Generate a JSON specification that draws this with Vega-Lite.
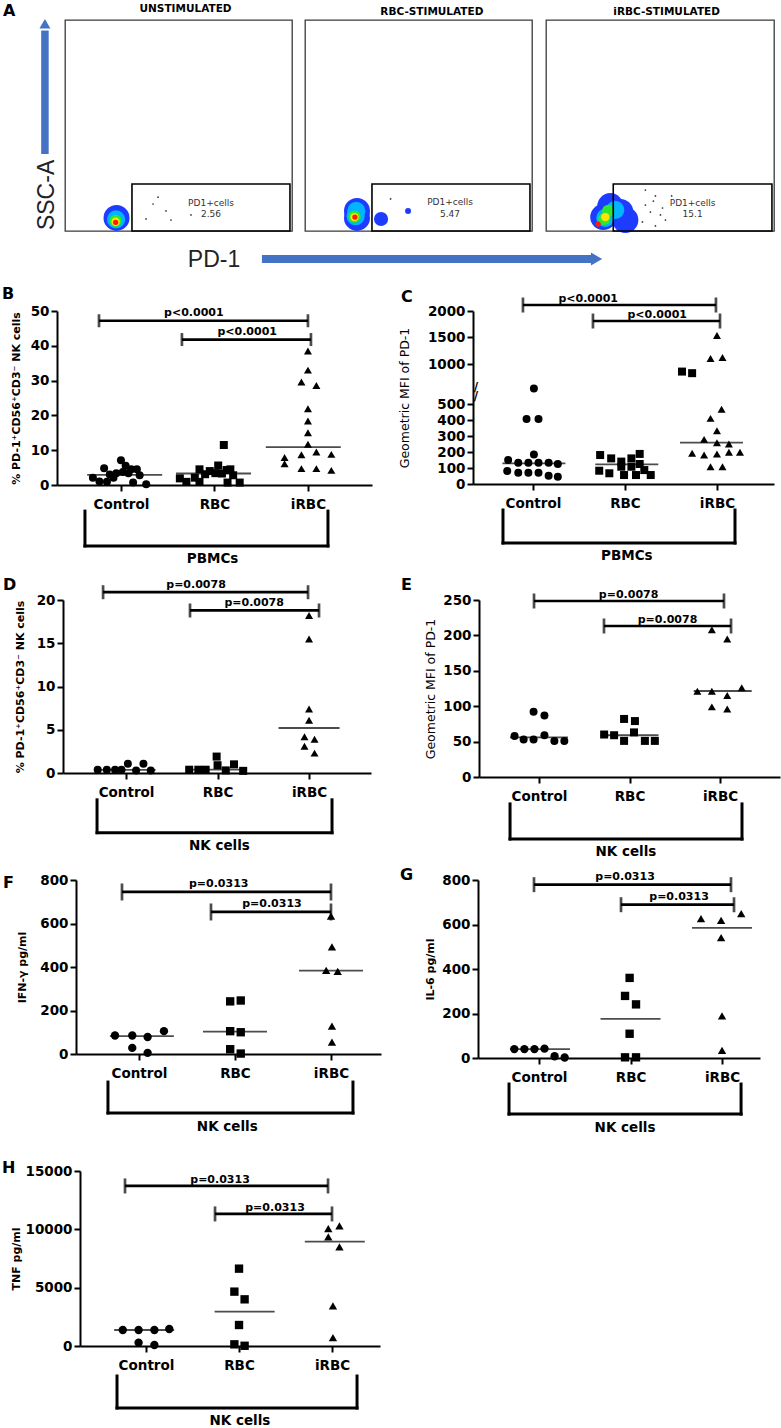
{
"background": "white",
"padding": 0,
"autosize": {"type": "pad"},
"config": {
 "view": {"stroke": null},
 "font": "DejaVu Sans",
 "concat": {"spacing": 0},
 "axis": {"domainColor": "black", "domainWidth": 2, "tickColor": "black", "tickWidth": 2, "tickSize": 6, "labelFont": "DejaVu Sans", "labelFontWeight": "bold", "labelFontSize": 13.5, "labelColor": "black", "labelOverlap": false, "titleFont": "DejaVu Sans", "titleFontWeight": "bold", "titleFontSize": 11, "titleColor": "black", "grid": false, "labelPadding": 2},
 "text": {"font": "DejaVu Sans", "color": "black"}
},
"datasets": {
 "pts": [
  {"p":"B","g":"Control","x":0.70,"v":2.1},{"p":"B","g":"Control","x":0.77,"v":1.0},{"p":"B","g":"Control","x":0.82,"v":4.8},{"p":"B","g":"Control","x":0.85,"v":0.9},{"p":"B","g":"Control","x":0.92,"v":2.1},{"p":"B","g":"Control","x":0.95,"v":3.4},{"p":"B","g":"Control","x":1.00,"v":7.1},{"p":"B","g":"Control","x":1.02,"v":3.7},{"p":"B","g":"Control","x":1.08,"v":3.4},{"p":"B","g":"Control","x":1.11,"v":4.5},{"p":"B","g":"Control","x":1.17,"v":4.5},{"p":"B","g":"Control","x":1.20,"v":2.8},{"p":"B","g":"Control","x":1.13,"v":0.7},{"p":"B","g":"Control","x":1.27,"v":0.2},{"p":"B","g":"Control","x":1.05,"v":5.5},{"p":"B","g":"Control","x":0.88,"v":3.0},
  {"p":"B","g":"RBC","x":2.10,"v":11.5},{"p":"B","g":"RBC","x":1.63,"v":1.9},{"p":"B","g":"RBC","x":1.70,"v":0.9},{"p":"B","g":"RBC","x":1.79,"v":2.1},{"p":"B","g":"RBC","x":1.84,"v":4.5},{"p":"B","g":"RBC","x":1.90,"v":3.1},{"p":"B","g":"RBC","x":1.95,"v":4.0},{"p":"B","g":"RBC","x":2.01,"v":3.4},{"p":"B","g":"RBC","x":2.04,"v":5.6},{"p":"B","g":"RBC","x":2.08,"v":3.3},{"p":"B","g":"RBC","x":2.13,"v":4.3},{"p":"B","g":"RBC","x":2.17,"v":4.5},{"p":"B","g":"RBC","x":2.20,"v":2.8},{"p":"B","g":"RBC","x":2.14,"v":0.7},{"p":"B","g":"RBC","x":2.27,"v":0.7},{"p":"B","g":"RBC","x":1.84,"v":0.9},
  {"p":"B","g":"iRBC","x":3.0,"v":38.5},{"p":"B","g":"iRBC","x":3.0,"v":33.0},{"p":"B","g":"iRBC","x":2.93,"v":29.6},{"p":"B","g":"iRBC","x":3.09,"v":28.6},{"p":"B","g":"iRBC","x":3.0,"v":21.9},{"p":"B","g":"iRBC","x":3.0,"v":18.4},{"p":"B","g":"iRBC","x":3.0,"v":15.0},{"p":"B","g":"iRBC","x":3.0,"v":11.7},{"p":"B","g":"iRBC","x":2.75,"v":7.9},{"p":"B","g":"iRBC","x":2.75,"v":6.1},{"p":"B","g":"iRBC","x":2.93,"v":8.7},{"p":"B","g":"iRBC","x":3.09,"v":9.5},{"p":"B","g":"iRBC","x":3.25,"v":8.8},{"p":"B","g":"iRBC","x":2.93,"v":4.7},{"p":"B","g":"iRBC","x":3.09,"v":4.7},{"p":"B","g":"iRBC","x":3.25,"v":4.2},
  {"p":"C","g":"Control","x":1.01,"v":583},{"p":"C","g":"Control","x":0.93,"v":406},{"p":"C","g":"Control","x":1.06,"v":406},{"p":"C","g":"Control","x":1.01,"v":185},{"p":"C","g":"Control","x":0.73,"v":150},{"p":"C","g":"Control","x":0.84,"v":133},{"p":"C","g":"Control","x":0.95,"v":133},{"p":"C","g":"Control","x":1.06,"v":133},{"p":"C","g":"Control","x":1.17,"v":133},{"p":"C","g":"Control","x":1.27,"v":125},{"p":"C","g":"Control","x":0.72,"v":81},{"p":"C","g":"Control","x":0.84,"v":71},{"p":"C","g":"Control","x":0.95,"v":71},{"p":"C","g":"Control","x":1.17,"v":52},{"p":"C","g":"Control","x":1.27,"v":46},{"p":"C","g":"Control","x":1.06,"v":70},
  {"p":"C","g":"RBC","x":2.62,"v":857},{"p":"C","g":"RBC","x":2.73,"v":827},{"p":"C","g":"RBC","x":1.73,"v":181},{"p":"C","g":"RBC","x":1.85,"v":160},{"p":"C","g":"RBC","x":2.16,"v":188},{"p":"C","g":"RBC","x":2.07,"v":160},{"p":"C","g":"RBC","x":1.96,"v":140},{"p":"C","g":"RBC","x":1.72,"v":83},{"p":"C","g":"RBC","x":1.83,"v":67},{"p":"C","g":"RBC","x":1.96,"v":108},{"p":"C","g":"RBC","x":2.07,"v":108},{"p":"C","g":"RBC","x":2.21,"v":87},{"p":"C","g":"RBC","x":1.99,"v":56},{"p":"C","g":"RBC","x":2.12,"v":56},{"p":"C","g":"RBC","x":2.28,"v":56},{"p":"C","g":"RBC","x":2.16,"v":125},
  {"p":"C","g":"iRBC","x":3.0,"v":1537},{"p":"C","g":"iRBC","x":2.93,"v":1105},{"p":"C","g":"iRBC","x":3.06,"v":1124},{"p":"C","g":"iRBC","x":3.05,"v":467},{"p":"C","g":"iRBC","x":2.93,"v":410},{"p":"C","g":"iRBC","x":3.0,"v":333},{"p":"C","g":"iRBC","x":2.86,"v":279},{"p":"C","g":"iRBC","x":3.0,"v":258},{"p":"C","g":"iRBC","x":3.13,"v":250},{"p":"C","g":"iRBC","x":2.73,"v":192},{"p":"C","g":"iRBC","x":2.86,"v":181},{"p":"C","g":"iRBC","x":3.0,"v":188},{"p":"C","g":"iRBC","x":3.13,"v":198},{"p":"C","g":"iRBC","x":3.25,"v":198},{"p":"C","g":"iRBC","x":2.93,"v":108},{"p":"C","g":"iRBC","x":3.06,"v":108},
  {"p":"D","g":"Control","x":0.69,"v":0.38},{"p":"D","g":"Control","x":0.79,"v":0.38},{"p":"D","g":"Control","x":0.88,"v":0.38},{"p":"D","g":"Control","x":0.95,"v":0.38},{"p":"D","g":"Control","x":1.02,"v":1.08},{"p":"D","g":"Control","x":1.11,"v":0.3},{"p":"D","g":"Control","x":1.19,"v":1.08},{"p":"D","g":"Control","x":1.27,"v":0.3},
  {"p":"D","g":"RBC","x":1.69,"v":0.38},{"p":"D","g":"RBC","x":1.79,"v":0.38},{"p":"D","g":"RBC","x":1.87,"v":0.38},{"p":"D","g":"RBC","x":1.99,"v":1.9},{"p":"D","g":"RBC","x":2.0,"v":0.9},{"p":"D","g":"RBC","x":2.09,"v":0.3},{"p":"D","g":"RBC","x":2.18,"v":1.0},{"p":"D","g":"RBC","x":2.28,"v":0.25},
  {"p":"D","g":"iRBC","x":3.0,"v":18.2},{"p":"D","g":"iRBC","x":3.0,"v":15.5},{"p":"D","g":"iRBC","x":3.0,"v":7.4},{"p":"D","g":"iRBC","x":3.0,"v":6.1},{"p":"D","g":"iRBC","x":2.95,"v":4.2},{"p":"D","g":"iRBC","x":3.06,"v":3.9},{"p":"D","g":"iRBC","x":2.95,"v":3.1},{"p":"D","g":"iRBC","x":3.06,"v":2.3},
  {"p":"E","g":"Control","x":0.73,"v":58},{"p":"E","g":"Control","x":0.83,"v":53},{"p":"E","g":"Control","x":0.94,"v":53},{"p":"E","g":"Control","x":1.06,"v":59},{"p":"E","g":"Control","x":1.17,"v":51},{"p":"E","g":"Control","x":1.28,"v":51},{"p":"E","g":"Control","x":0.94,"v":92},{"p":"E","g":"Control","x":1.06,"v":87},
  {"p":"E","g":"RBC","x":1.72,"v":60},{"p":"E","g":"RBC","x":1.83,"v":59},{"p":"E","g":"RBC","x":1.94,"v":51},{"p":"E","g":"RBC","x":2.05,"v":63},{"p":"E","g":"RBC","x":2.17,"v":51},{"p":"E","g":"RBC","x":2.28,"v":51},{"p":"E","g":"RBC","x":1.94,"v":82},{"p":"E","g":"RBC","x":2.06,"v":79},
  {"p":"E","g":"iRBC","x":2.91,"v":208},{"p":"E","g":"iRBC","x":3.08,"v":195},{"p":"E","g":"iRBC","x":2.75,"v":121},{"p":"E","g":"iRBC","x":2.91,"v":121},{"p":"E","g":"iRBC","x":3.08,"v":115},{"p":"E","g":"iRBC","x":3.24,"v":126},{"p":"E","g":"iRBC","x":2.91,"v":99},{"p":"E","g":"iRBC","x":3.08,"v":96},
  {"p":"F","g":"Control","x":0.75,"v":85},{"p":"F","g":"Control","x":0.93,"v":85},{"p":"F","g":"Control","x":1.09,"v":78},{"p":"F","g":"Control","x":1.26,"v":105},{"p":"F","g":"Control","x":0.93,"v":28},{"p":"F","g":"Control","x":1.09,"v":5},
  {"p":"F","g":"RBC","x":1.95,"v":242},{"p":"F","g":"RBC","x":2.06,"v":246},{"p":"F","g":"RBC","x":1.95,"v":105},{"p":"F","g":"RBC","x":2.06,"v":100},{"p":"F","g":"RBC","x":1.95,"v":22},{"p":"F","g":"RBC","x":2.06,"v":2},
  {"p":"F","g":"iRBC","x":3.0,"v":634},{"p":"F","g":"iRBC","x":3.01,"v":492},{"p":"F","g":"iRBC","x":2.95,"v":385},{"p":"F","g":"iRBC","x":3.07,"v":380},{"p":"F","g":"iRBC","x":3.01,"v":128},{"p":"F","g":"iRBC","x":3.01,"v":55},
  {"p":"G","g":"Control","x":0.73,"v":40},{"p":"G","g":"Control","x":0.84,"v":40},{"p":"G","g":"Control","x":0.95,"v":40},{"p":"G","g":"Control","x":1.06,"v":42},{"p":"G","g":"Control","x":1.17,"v":8},{"p":"G","g":"Control","x":1.28,"v":2},
  {"p":"G","g":"RBC","x":1.99,"v":360},{"p":"G","g":"RBC","x":1.94,"v":279},{"p":"G","g":"RBC","x":2.06,"v":241},{"p":"G","g":"RBC","x":1.99,"v":109},{"p":"G","g":"RBC","x":1.94,"v":3},{"p":"G","g":"RBC","x":2.06,"v":3},
  {"p":"G","g":"iRBC","x":2.77,"v":626},{"p":"G","g":"iRBC","x":2.99,"v":619},{"p":"G","g":"iRBC","x":3.21,"v":649},{"p":"G","g":"iRBC","x":2.99,"v":541},{"p":"G","g":"iRBC","x":3.0,"v":189},{"p":"G","g":"iRBC","x":3.0,"v":34},
  {"p":"H","g":"Control","x":0.75,"v":1372},{"p":"H","g":"Control","x":0.92,"v":1372},{"p":"H","g":"Control","x":1.09,"v":1372},{"p":"H","g":"Control","x":1.25,"v":1458},{"p":"H","g":"Control","x":0.92,"v":286},{"p":"H","g":"Control","x":1.09,"v":86},
  {"p":"H","g":"RBC","x":2.0,"v":6630},{"p":"H","g":"RBC","x":1.95,"v":4660},{"p":"H","g":"RBC","x":2.06,"v":4000},{"p":"H","g":"RBC","x":2.0,"v":1800},{"p":"H","g":"RBC","x":1.95,"v":143},{"p":"H","g":"RBC","x":2.06,"v":20},
  {"p":"H","g":"iRBC","x":2.96,"v":10060},{"p":"H","g":"iRBC","x":3.08,"v":10290},{"p":"H","g":"iRBC","x":2.96,"v":9350},{"p":"H","g":"iRBC","x":3.08,"v":8490},{"p":"H","g":"iRBC","x":3.01,"v":3430},{"p":"H","g":"iRBC","x":3.01,"v":715}
 ],
 "med": [
  {"p":"B","x":1.04,"v":2.9},{"p":"B","x":1.99,"v":3.3},{"p":"B","x":2.95,"v":10.9},
  {"p":"C","x":1.01,"v":129},{"p":"C","x":2.02,"v":123},{"p":"C","x":2.94,"v":258},
  {"p":"D","x":0.99,"v":0.35},{"p":"D","x":1.99,"v":0.4},{"p":"D","x":3.0,"v":5.2},
  {"p":"E","x":1.0,"v":56},{"p":"E","x":2.0,"v":59},{"p":"E","x":3.03,"v":121.5},
  {"p":"F","x":1.03,"v":82},{"p":"F","x":2.0,"v":103},{"p":"F","x":3.0,"v":383},
  {"p":"G","x":1.01,"v":40},{"p":"G","x":2.0,"v":176},{"p":"G","x":3.0,"v":585},
  {"p":"H","x":0.98,"v":1372},{"p":"H","x":2.06,"v":2940},{"p":"H","x":3.03,"v":8950}
 ],
 "sig": [
  {"p":"B","from":0.765,"to":3.0,"lv":47.2,"tx":1.78,"lab":"p<0.0001"},{"p":"B","from":1.652,"to":3.032,"lv":41.8,"tx":2.35,"lab":"p<0.0001"},
  {"p":"C","from":0.891,"to":2.989,"lv":2113,"tx":1.60,"lab":"p<0.0001"},{"p":"C","from":1.652,"to":3.033,"lv":1811,"tx":2.35,"lab":"p<0.0001"},
  {"p":"D","from":0.749,"to":2.989,"lv":20.9,"tx":1.765,"lab":"p=0.0078"},{"p":"D","from":1.699,"to":3.109,"lv":18.8,"tx":2.40,"lab":"p=0.0078"},
  {"p":"E","from":0.945,"to":3.044,"lv":248.6,"tx":1.99,"lab":"p=0.0078"},{"p":"E","from":1.718,"to":3.122,"lv":213.3,"tx":2.42,"lab":"p=0.0078"},
  {"p":"F","from":0.823,"to":3.0,"lv":745,"tx":1.83,"lab":"p=0.0313"},{"p":"F","from":1.75,"to":3.0,"lv":653,"tx":2.385,"lab":"p=0.0313"},
  {"p":"G","from":0.945,"to":3.098,"lv":779,"tx":1.94,"lab":"p=0.0313"},{"p":"G","from":1.896,"to":3.131,"lv":689,"tx":2.53,"lab":"p=0.0313"},
  {"p":"H","from":0.774,"to":2.957,"lv":13720,"tx":1.796,"lab":"p=0.0313"},{"p":"H","from":1.742,"to":3.0,"lv":11320,"tx":2.387,"lab":"p=0.0313"}
 ],
 "grp": [
  {"p":"B","from":0.615,"to":3.214,"top":-7.5,"bot":-17.5,"tx":1.98,"ly":-21.3,"lab":"PBMCs"},
  {"p":"C","from":0.674,"to":3.196,"top":-162.5,"bot":-369,"tx":2.02,"ly":-450,"lab":"PBMCs"},
  {"p":"D","from":0.683,"to":3.251,"top":-3.1,"bot":-6.9,"tx":2.02,"ly":-8.4,"lab":"NK cells"},
  {"p":"E","from":0.68,"to":3.243,"top":-38,"bot":-87.6,"tx":1.96,"ly":-106,"lab":"NK cells"},
  {"p":"F","from":0.677,"to":3.229,"top":-129,"bot":-271,"tx":1.92,"ly":-336,"lab":"NK cells"},
  {"p":"G","from":0.672,"to":3.208,"top":-117,"bot":-252,"tx":1.94,"ly":-315,"lab":"NK cells"},
  {"p":"H","from":0.688,"to":3.269,"top":-2573,"bot":-5317,"tx":2.01,"ly":-6432,"lab":"NK cells"}
 ],
 "letters": [
  {"p":"B","x":-0.272,"y":57.18,"t":"B"},{"p":"C","x":-0.4347,"y":2415,"t":"C"},{"p":"D","x":-0.3447,"y":22.66,"t":"D"},{"p":"E","x":-0.5249,"y":282.5,"t":"E"},{"p":"F","x":-0.4164,"y":823,"t":"F"},{"p":"G","x":-0.5195,"y":858.4,"t":"G"},{"p":"H","x":-0.5487,"y":15943,"t":"H"}
 ],
 "brk": [{"p":"C","v":540},{"p":"C","v":590}],
 "flow": [
  {"p":"U","a":22.7,"b":6.2,"l":"b1"},{"p":"U","a":22.5,"b":5.5,"l":"b2"},{"p":"U","a":22.3,"b":4.8,"l":"g"},{"p":"U","a":22.3,"b":4.4,"l":"y"},{"p":"U","a":22.3,"b":4.1,"l":"r"},
  {"p":"U","a":38.8,"b":12.8,"l":"k"},{"p":"U","a":44.5,"b":9.5,"l":"k"},{"p":"U","a":35.7,"b":5.7,"l":"k"},{"p":"U","a":46.7,"b":5.2,"l":"k"},{"p":"U","a":55.5,"b":7.6,"l":"k"},{"p":"U","a":41.0,"b":16.0,"l":"k"},
  {"p":"R","a":22.9,"b":6.2,"l":"b1"},{"p":"R","a":22.9,"b":9.5,"l":"b1"},{"p":"R","a":22.3,"b":7.0,"l":"b2"},{"p":"R","a":22.6,"b":9.5,"l":"b2"},{"p":"R","a":21.8,"b":6.8,"l":"g"},{"p":"R","a":21.8,"b":6.6,"l":"y"},{"p":"R","a":22.0,"b":6.6,"l":"r"},{"p":"R","a":33.5,"b":5.7,"l":"bs"},{"p":"R","a":45.4,"b":9.5,"l":"bt"},{"p":"R","a":37.7,"b":15.2,"l":"k"},
  {"p":"I","a":25.1,"b":6.6,"l":"b1"},{"p":"I","a":32.6,"b":9.0,"l":"b1"},{"p":"I","a":28.2,"b":11.8,"l":"b1"},{"p":"I","a":34.8,"b":5.2,"l":"b1"},{"p":"I","a":26.0,"b":6.2,"l":"b2"},{"p":"I","a":30.4,"b":10.0,"l":"b2"},{"p":"I","a":25.6,"b":5.7,"l":"g"},{"p":"I","a":27.3,"b":9.5,"l":"g"},{"p":"I","a":26.0,"b":6.6,"l":"y"},{"p":"I","a":22.9,"b":3.3,"l":"r"},
  {"p":"I","a":43.6,"b":12.3,"l":"k"},{"p":"I","a":48.0,"b":16.6,"l":"k"},{"p":"I","a":47.1,"b":14.2,"l":"k"},{"p":"I","a":50.2,"b":7.6,"l":"k"},{"p":"I","a":52.4,"b":5.2,"l":"k"},{"p":"I","a":45.8,"b":9.0,"l":"k"},{"p":"I","a":55.1,"b":16.6,"l":"k"},{"p":"I","a":42.3,"b":4.3,"l":"k"},{"p":"I","a":48.0,"b":2.4,"l":"k"},{"p":"I","a":51.1,"b":10.9,"l":"k"},{"p":"I","a":43.6,"b":19.4,"l":"k"}
 ],
 "gate": [{"x1":29.5,"x2":99.1,"y1":0,"y2":22.3}],
 "glab": [
  {"p":"U","a":64.3,"b":13.3,"t":"PD1+cells"},{"p":"U","a":64.3,"b":8.1,"t":"2.56"},
  {"p":"R","a":63.9,"b":13.7,"t":"PD1+cells"},{"p":"R","a":63.9,"b":8.1,"t":"5.47"},
  {"p":"I","a":64.3,"b":13.3,"t":"PD1+cells"},{"p":"I","a":64.3,"b":8.1,"t":"15.1"}
 ],
 "btitle": [
  {"p":"U","a":53.1,"b":105.0,"t":"UNSTIMULATED"},
  {"p":"R","a":55.9,"b":103.8,"t":"RBC-STIMULATED"},
  {"p":"I","a":52.9,"b":103.8,"t":"iRBC-STIMULATED"}
 ],
 "lettA": [{"a":-26.87,"b":108.06,"t":"A"}],
 "arrV": [{"x":-8.4,"y":36.5,"y2":95}],
 "arrVh": [{"x":-8.4,"y":98.2}],
 "lblV": [{"x":-7.5,"y":17.1,"t":"SSC-A"}],
 "arrH": [{"x":87.2,"x2":232.6,"y":-12.8}],
 "arrHh": [{"x":234.6,"y":-12.8}],
 "lblH": [{"x":66.1,"y":-13.3,"t":"PD-1"}]
},
"spacing": 0,
"vconcat": [
 {"spacing": 0, "hconcat": [
  {"width": 64, "height": 211,
   "layer": [
    {"data": {"values": [{}]}, "mark": {"type": "rect", "opacity": 0},
     "encoding": {"x": {"datum": -28.194, "type": "quantitative", "scale": {"domain": [-28.194, 0], "nice": false, "zero": false}, "axis": null}, "x2": {"datum": 0}, "y": {"datum": 109.005, "type": "quantitative", "scale": {"domain": [0, 100], "nice": false, "zero": false}, "axis": null}, "y2": {"datum": -4.739}}},
    {"data": {"name": "lettA"}, "mark": {"type": "text", "fontSize": 16, "fontWeight": "bold", "baseline": "top", "align": "left"},
     "encoding": {"x": {"field": "a", "type": "quantitative", "axis": null}, "y": {"field": "b", "type": "quantitative", "axis": null}, "text": {"field": "t"}}},
    {"data": {"name": "arrV"}, "mark": {"type": "rule", "color": "#4472C4", "strokeWidth": 7.5},
     "encoding": {"x": {"field": "x", "type": "quantitative", "axis": null}, "y": {"field": "y", "type": "quantitative", "axis": null}, "y2": {"field": "y2"}}},
    {"data": {"name": "arrVh"}, "mark": {"type": "point", "shape": "triangle-up", "filled": true, "color": "#4472C4", "opacity": 1, "size": 121},
     "encoding": {"x": {"field": "x", "type": "quantitative", "axis": null}, "y": {"field": "y", "type": "quantitative", "axis": null}}},
    {"data": {"name": "lblV"}, "mark": {"type": "text", "angle": 270, "font": "Liberation Sans Narrow, Liberation Sans", "fontSize": 23, "color": "#222222", "baseline": "middle"},
     "encoding": {"x": {"field": "x", "type": "quantitative", "axis": null}, "y": {"field": "y", "type": "quantitative", "axis": null}, "text": {"field": "t"}}}
   ]},
  {"width": 227, "height": 211, "view": {"stroke": "#3a3a3a", "strokeWidth": 1.3},
   "layer": [
    {"data": {"values": [{}]}, "mark": {"type": "rect", "opacity": 0},
     "encoding": {"x": {"datum": 0, "type": "quantitative", "scale": {"domain": [0, 100], "nice": false, "zero": false}, "axis": null}, "x2": {"datum": 102.2}, "y": {"datum": 109.005, "type": "quantitative", "scale": {"domain": [0, 100], "nice": false, "zero": false}, "axis": null}, "y2": {"datum": -4.739}}},
    {"data": {"name": "flow"}, "transform": [{"filter": "datum.p==='U'"}], "mark": {"type": "point", "filled": true, "opacity": 1, "strokeWidth": 0},
     "encoding": {"x": {"field": "a", "type": "quantitative", "axis": null},
      "y": {"field": "b", "type": "quantitative", "axis": null},
      "color": {"field": "l", "type": "nominal", "scale": {"domain": ["b1","b2","g","y","r","bs","bt","k"], "range": ["#1e3cff","#00b4ff","#2ee82e","#ffe600","#ff1a00","#1e3cff","#1e3cff","#333333"]}, "legend": null},
      "size": {"field": "l", "type": "nominal", "scale": {"type": "ordinal", "domain": ["b1","b2","g","y","r","bs","bt","k"], "range": [676, 330, 150, 70, 28, 200, 36, 3]}, "legend": null}}},
    {"data": {"name": "gate"}, "mark": {"type": "rect", "filled": false, "stroke": "black", "strokeWidth": 1.6},
     "encoding": {"x": {"field": "x1", "type": "quantitative", "axis": null}, "x2": {"field": "x2"}, "y": {"field": "y1", "type": "quantitative", "axis": null}, "y2": {"field": "y2"}}},
    {"data": {"name": "glab"}, "transform": [{"filter": "datum.p==='U'"}], "mark": {"type": "text", "fontSize": 9, "color": "#333333", "baseline": "middle"},
     "encoding": {"x": {"field": "a", "type": "quantitative", "axis": null}, "y": {"field": "b", "type": "quantitative", "axis": null}, "text": {"field": "t"}}},
    {"data": {"name": "btitle"}, "transform": [{"filter": "datum.p==='U'"}], "mark": {"type": "text", "fontSize": 10.5, "fontWeight": "bold", "baseline": "middle"},
     "encoding": {"x": {"field": "a", "type": "quantitative", "axis": null}, "y": {"field": "b", "type": "quantitative", "axis": null}, "text": {"field": "t"}}}
   ]},
  {"width": 227, "height": 211, "view": {"stroke": "#3a3a3a", "strokeWidth": 1.3},
   "layer": [
    {"data": {"values": [{}]}, "mark": {"type": "rect", "opacity": 0},
     "encoding": {"x": {"datum": -2.643, "type": "quantitative", "scale": {"domain": [0, 100], "nice": false, "zero": false}, "axis": null}, "x2": {"datum": 102.643}, "y": {"datum": 109.005, "type": "quantitative", "scale": {"domain": [0, 100], "nice": false, "zero": false}, "axis": null}, "y2": {"datum": -4.739}}},
    {"data": {"name": "flow"}, "transform": [{"filter": "datum.p==='R'"}], "mark": {"type": "point", "filled": true, "opacity": 1, "strokeWidth": 0},
     "encoding": {"x": {"field": "a", "type": "quantitative", "axis": null},
      "y": {"field": "b", "type": "quantitative", "axis": null},
      "color": {"field": "l", "type": "nominal", "scale": {"domain": ["b1","b2","g","y","r","bs","bt","k"], "range": ["#1e3cff","#00b4ff","#2ee82e","#ffe600","#ff1a00","#1e3cff","#1e3cff","#333333"]}, "legend": null},
      "size": {"field": "l", "type": "nominal", "scale": {"type": "ordinal", "domain": ["b1","b2","g","y","r","bs","bt","k"], "range": [676, 330, 150, 70, 28, 200, 36, 3]}, "legend": null}}},
    {"data": {"name": "gate"}, "mark": {"type": "rect", "filled": false, "stroke": "black", "strokeWidth": 1.6},
     "encoding": {"x": {"field": "x1", "type": "quantitative", "axis": null}, "x2": {"field": "x2"}, "y": {"field": "y1", "type": "quantitative", "axis": null}, "y2": {"field": "y2"}}},
    {"data": {"name": "glab"}, "transform": [{"filter": "datum.p==='R'"}], "mark": {"type": "text", "fontSize": 9, "color": "#333333", "baseline": "middle"},
     "encoding": {"x": {"field": "a", "type": "quantitative", "axis": null}, "y": {"field": "b", "type": "quantitative", "axis": null}, "text": {"field": "t"}}},
    {"data": {"name": "btitle"}, "transform": [{"filter": "datum.p==='R'"}], "mark": {"type": "text", "fontSize": 10.5, "fontWeight": "bold", "baseline": "middle"},
     "encoding": {"x": {"field": "a", "type": "quantitative", "axis": null}, "y": {"field": "b", "type": "quantitative", "axis": null}, "text": {"field": "t"}}}
   ]},
  {"width": 228, "height": 211, "view": {"stroke": "#3a3a3a", "strokeWidth": 1.3},
   "layer": [
    {"data": {"values": [{}]}, "mark": {"type": "rect", "opacity": 0},
     "encoding": {"x": {"datum": -2.632, "type": "quantitative", "scale": {"domain": [0, 100], "nice": false, "zero": false}, "axis": null}, "x2": {"datum": 105.263}, "y": {"datum": 109.005, "type": "quantitative", "scale": {"domain": [0, 100], "nice": false, "zero": false}, "axis": null}, "y2": {"datum": -4.739}}},
    {"data": {"name": "flow"}, "transform": [{"filter": "datum.p==='I'"}], "mark": {"type": "point", "filled": true, "opacity": 1, "strokeWidth": 0},
     "encoding": {"x": {"field": "a", "type": "quantitative", "axis": null},
      "y": {"field": "b", "type": "quantitative", "axis": null},
      "color": {"field": "l", "type": "nominal", "scale": {"domain": ["b1","b2","g","y","r","bs","bt","k"], "range": ["#1e3cff","#00b4ff","#2ee82e","#ffe600","#ff1a00","#1e3cff","#1e3cff","#333333"]}, "legend": null},
      "size": {"field": "l", "type": "nominal", "scale": {"type": "ordinal", "domain": ["b1","b2","g","y","r","bs","bt","k"], "range": [676, 330, 150, 70, 28, 200, 36, 3]}, "legend": null}}},
    {"data": {"name": "gate"}, "mark": {"type": "rect", "filled": false, "stroke": "black", "strokeWidth": 1.6},
     "encoding": {"x": {"field": "x1", "type": "quantitative", "axis": null}, "x2": {"field": "x2"}, "y": {"field": "y1", "type": "quantitative", "axis": null}, "y2": {"field": "y2"}}},
    {"data": {"name": "glab"}, "transform": [{"filter": "datum.p==='I'"}], "mark": {"type": "text", "fontSize": 9, "color": "#333333", "baseline": "middle"},
     "encoding": {"x": {"field": "a", "type": "quantitative", "axis": null}, "y": {"field": "b", "type": "quantitative", "axis": null}, "text": {"field": "t"}}},
    {"data": {"name": "btitle"}, "transform": [{"filter": "datum.p==='I'"}], "mark": {"type": "text", "fontSize": 10.5, "fontWeight": "bold", "baseline": "middle"},
     "encoding": {"x": {"field": "a", "type": "quantitative", "axis": null}, "y": {"field": "b", "type": "quantitative", "axis": null}, "text": {"field": "t"}}}
   ]}
 ]},
 {"width": 781, "height": 35,
  "layer": [
   {"data": {"name": "arrH"}, "mark": {"type": "rule", "color": "#4472C4", "strokeWidth": 8},
    "encoding": {"x": {"field": "x", "type": "quantitative", "scale": {"domain": [-28.194, 315.86], "nice": false, "zero": false}, "axis": null}, "x2": {"field": "x2"}, "y": {"field": "y", "type": "quantitative", "scale": {"domain": [-21.327, -4.739], "nice": false, "zero": false}, "axis": null}}},
   {"data": {"name": "arrHh"}, "mark": {"type": "point", "shape": "triangle-right", "filled": true, "color": "#4472C4", "opacity": 1, "size": 169},
    "encoding": {"x": {"field": "x", "type": "quantitative", "axis": null}, "y": {"field": "y", "type": "quantitative", "axis": null}}},
   {"data": {"name": "lblH"}, "mark": {"type": "text", "font": "Liberation Sans Narrow, Liberation Sans", "fontSize": 23, "color": "#222222", "baseline": "middle"},
    "encoding": {"x": {"field": "x", "type": "quantitative", "axis": null}, "y": {"field": "y", "type": "quantitative", "axis": null}, "text": {"field": "t"}}}
  ]},
 {"spacing": 0, "hconcat": [
  {"width": 1, "height": 1, "data": {"values": [{}]}, "mark": "text", "encoding": {"text": {"value": ""}}},
  {"width": 315, "height": 174, "layer": [
   {"data": {"name": "pts"}, "transform": [{"filter": "datum.p==='B'"}], "mark": {"type": "point", "filled": true, "color": "black", "opacity": 1, "size": 64},
    "encoding": {"x": {"field": "x", "type": "quantitative", "scale": {"domain": [0.316, 3.685], "nice": false, "zero": false}, "axis": {"values": [1,2,3], "tickCount": 20, "labelExpr": "datum.value == 1 ? 'Control' : datum.value == 2 ? 'RBC' : 'iRBC'", "title": null, "labelPadding": 6}},
     "y": {"field": "v", "type": "quantitative", "scale": {"domain": [0, 50], "nice": false, "zero": false}, "axis": {"values": [0,10,20,30,40,50], "tickCount": 20, "title": "% PD-1⁺CD56⁺CD3⁻ NK cells", "titleX": -35.7, "titleY": 87, "format": "d"}},
     "shape": {"field": "g", "type": "nominal", "scale": {"domain": ["Control","RBC","iRBC"], "range": ["circle","square","triangle-up"]}, "legend": null}}},
   {"data": {"values": [{}]}, "mark": {"type": "rect", "opacity": 0}, "encoding": {"x": {"datum": -0.2829, "type": "quantitative"}, "x2": {"datum": 3.8775}, "y": {"datum": 59.77, "type": "quantitative"}, "y2": {"datum": -23.56}}},
   {"data": {"name": "letters"}, "transform": [{"filter": "datum.p==='B'"}], "mark": {"type": "text", "fontSize": 16, "fontWeight": "bold", "baseline": "top", "align": "left"},
    "encoding": {"x": {"field": "x", "type": "quantitative"}, "y": {"field": "y", "type": "quantitative"}, "text": {"field": "t"}}},
   {"data": {"name": "med"}, "transform": [{"filter": "datum.p==='B'"}], "mark": {"type": "tick", "orient": "horizontal", "size": 75, "thickness": 1.8, "color": "black"},
    "encoding": {"x": {"field": "x", "type": "quantitative"}, "y": {"field": "v", "type": "quantitative"}}},
   {"data": {"name": "sig"}, "transform": [{"filter": "datum.p==='B'"}], "mark": {"type": "rule", "strokeWidth": 2.7, "color": "black"},
    "encoding": {"x": {"field": "from", "type": "quantitative"}, "x2": {"field": "to"}, "y": {"field": "lv", "type": "quantitative"}}},
   {"data": {"name": "sig"}, "transform": [{"filter": "datum.p==='B'"}], "mark": {"type": "tick", "orient": "vertical", "size": 13, "thickness": 2.7, "color": "black"},
    "encoding": {"x": {"field": "from", "type": "quantitative"}, "y": {"field": "lv", "type": "quantitative"}}},
   {"data": {"name": "sig"}, "transform": [{"filter": "datum.p==='B'"}], "mark": {"type": "tick", "orient": "vertical", "size": 13, "thickness": 2.7, "color": "black"},
    "encoding": {"x": {"field": "to", "type": "quantitative"}, "y": {"field": "lv", "type": "quantitative"}}},
   {"data": {"name": "sig"}, "transform": [{"filter": "datum.p==='B'"}], "mark": {"type": "text", "fontWeight": "bold", "fontSize": 11, "dy": -5, "baseline": "alphabetic", "color": "black"},
    "encoding": {"x": {"field": "tx", "type": "quantitative"}, "y": {"field": "lv", "type": "quantitative"}, "text": {"field": "lab"}}},
   {"data": {"name": "grp"}, "transform": [{"filter": "datum.p==='B'"}], "mark": {"type": "rule", "strokeWidth": 3, "color": "black", "strokeCap": "square"},
    "encoding": {"x": {"field": "from", "type": "quantitative"}, "y": {"field": "top", "type": "quantitative"}, "y2": {"field": "bot"}}},
   {"data": {"name": "grp"}, "transform": [{"filter": "datum.p==='B'"}], "mark": {"type": "rule", "strokeWidth": 3, "color": "black", "strokeCap": "square"},
    "encoding": {"x": {"field": "to", "type": "quantitative"}, "y": {"field": "top", "type": "quantitative"}, "y2": {"field": "bot"}}},
   {"data": {"name": "grp"}, "transform": [{"filter": "datum.p==='B'"}], "mark": {"type": "rule", "strokeWidth": 3, "color": "black", "strokeCap": "square"},
    "encoding": {"x": {"field": "from", "type": "quantitative"}, "x2": {"field": "to"}, "y": {"field": "bot", "type": "quantitative"}}},
   {"data": {"name": "grp"}, "transform": [{"filter": "datum.p==='B'"}], "mark": {"type": "text", "fontWeight": "bold", "fontSize": 13.5, "baseline": "middle", "color": "black"},
    "encoding": {"x": {"field": "tx", "type": "quantitative"}, "y": {"field": "ly", "type": "quantitative"}, "text": {"field": "lab"}}}
  ]},
  {"width": 301, "height": 173, "layer": [
   {"data": {"name": "pts"}, "transform": [{"filter": "datum.p==='C'"}], "mark": {"type": "point", "filled": true, "color": "black", "opacity": 1, "size": 64},
    "encoding": {"x": {"field": "x", "type": "quantitative", "scale": {"domain": [0.348, 3.62], "nice": false, "zero": false}, "axis": {"values": [1,2,3], "tickCount": 20, "labelExpr": "datum.value == 1 ? 'Control' : datum.value == 2 ? 'RBC' : 'iRBC'", "title": null, "labelPadding": 6}},
     "y": {"field": "v", "type": "quantitative", "scale": {"domain": [0, 500, 600, 2000], "range": [173, 93, 74.2, 0], "nice": false, "zero": false}, "axis": {"values": [0,100,200,300,400,500,1000,1500,2000], "tickCount": 20, "title": "Geometric MFI of PD-1", "titleFontWeight": "normal", "titleFontSize": 12.5, "titleX": -61.4, "titleY": 86.5, "format": "d"}},
     "shape": {"field": "g", "type": "nominal", "scale": {"domain": ["Control","RBC","iRBC"], "range": ["circle","square","triangle-up"]}, "legend": null}}},
   {"data": {"values": [{}]}, "mark": {"type": "rect", "opacity": 0}, "encoding": {"x": {"datum": -0.5434, "type": "quantitative"}, "x2": {"datum": 3.707}, "y": {"datum": 2641.5, "type": "quantitative"}, "y2": {"datum": -518.75}}},
   {"data": {"name": "letters"}, "transform": [{"filter": "datum.p==='C'"}], "mark": {"type": "text", "fontSize": 16, "fontWeight": "bold", "baseline": "top", "align": "left"},
    "encoding": {"x": {"field": "x", "type": "quantitative"}, "y": {"field": "y", "type": "quantitative"}, "text": {"field": "t"}}},
   {"data": {"name": "med"}, "transform": [{"filter": "datum.p==='C'"}], "mark": {"type": "tick", "orient": "horizontal", "size": 63, "thickness": 1.8, "color": "black"},
    "encoding": {"x": {"field": "x", "type": "quantitative"}, "y": {"field": "v", "type": "quantitative"}}},
   {"data": {"name": "brk"}, "mark": {"type": "text", "fontSize": 12, "fontWeight": "bold", "dx": 3, "baseline": "middle", "color": "black"},
    "encoding": {"x": {"datum": 0.348, "type": "quantitative"}, "y": {"field": "v", "type": "quantitative"}, "text": {"value": "/"}}},
   {"data": {"name": "sig"}, "transform": [{"filter": "datum.p==='C'"}], "mark": {"type": "rule", "strokeWidth": 2.7, "color": "black"},
    "encoding": {"x": {"field": "from", "type": "quantitative"}, "x2": {"field": "to"}, "y": {"field": "lv", "type": "quantitative"}}},
   {"data": {"name": "sig"}, "transform": [{"filter": "datum.p==='C'"}], "mark": {"type": "tick", "orient": "vertical", "size": 15, "thickness": 2.7, "color": "black"},
    "encoding": {"x": {"field": "from", "type": "quantitative"}, "y": {"field": "lv", "type": "quantitative"}}},
   {"data": {"name": "sig"}, "transform": [{"filter": "datum.p==='C'"}], "mark": {"type": "tick", "orient": "vertical", "size": 15, "thickness": 2.7, "color": "black"},
    "encoding": {"x": {"field": "to", "type": "quantitative"}, "y": {"field": "lv", "type": "quantitative"}}},
   {"data": {"name": "sig"}, "transform": [{"filter": "datum.p==='C'"}], "mark": {"type": "text", "fontWeight": "bold", "fontSize": 11, "dy": -3, "baseline": "alphabetic", "color": "black"},
    "encoding": {"x": {"field": "tx", "type": "quantitative"}, "y": {"field": "lv", "type": "quantitative"}, "text": {"field": "lab"}}},
   {"data": {"name": "grp"}, "transform": [{"filter": "datum.p==='C'"}], "mark": {"type": "rule", "strokeWidth": 3, "color": "black", "strokeCap": "square"},
    "encoding": {"x": {"field": "from", "type": "quantitative"}, "y": {"field": "top", "type": "quantitative"}, "y2": {"field": "bot"}}},
   {"data": {"name": "grp"}, "transform": [{"filter": "datum.p==='C'"}], "mark": {"type": "rule", "strokeWidth": 3, "color": "black", "strokeCap": "square"},
    "encoding": {"x": {"field": "to", "type": "quantitative"}, "y": {"field": "top", "type": "quantitative"}, "y2": {"field": "bot"}}},
   {"data": {"name": "grp"}, "transform": [{"filter": "datum.p==='C'"}], "mark": {"type": "rule", "strokeWidth": 3, "color": "black", "strokeCap": "square"},
    "encoding": {"x": {"field": "from", "type": "quantitative"}, "x2": {"field": "to"}, "y": {"field": "bot", "type": "quantitative"}}},
   {"data": {"name": "grp"}, "transform": [{"filter": "datum.p==='C'"}], "mark": {"type": "text", "fontWeight": "bold", "fontSize": 13.5, "baseline": "middle", "color": "black"},
    "encoding": {"x": {"field": "tx", "type": "quantitative"}, "y": {"field": "ly", "type": "quantitative"}, "text": {"field": "lab"}}}
  ]}
 ]},
 {"spacing": 0, "hconcat": [
  {"width": 1, "height": 1, "data": {"values": [{}]}, "mark": "text", "encoding": {"text": {"value": ""}}},
  {"width": 308, "height": 173, "layer": [
   {"data": {"name": "pts"}, "transform": [{"filter": "datum.p==='D'"}], "mark": {"type": "point", "filled": true, "color": "black", "opacity": 1, "size": 64},
    "encoding": {"x": {"field": "x", "type": "quantitative", "scale": {"domain": [0.311, 3.677], "nice": false, "zero": false}, "axis": {"values": [1,2,3], "tickCount": 20, "labelExpr": "datum.value == 1 ? 'Control' : datum.value == 2 ? 'RBC' : 'iRBC'", "title": null, "labelPadding": 6}},
     "y": {"field": "v", "type": "quantitative", "scale": {"domain": [0, 20], "nice": false, "zero": false}, "axis": {"values": [0,5,10,15,20], "tickCount": 20, "title": "% PD-1⁺CD56⁺CD3⁻ NK cells", "titleX": -37.7, "titleY": 86.5, "format": "d"}},
     "shape": {"field": "g", "type": "nominal", "scale": {"domain": ["Control","RBC","iRBC"], "range": ["circle","square","triangle-up"]}, "legend": null}}},
   {"data": {"values": [{}]}, "mark": {"type": "rect", "opacity": 0}, "encoding": {"x": {"datum": -0.3557, "type": "quantitative"}, "x2": {"datum": 3.8957}, "y": {"datum": 23.815, "type": "quantitative"}, "y2": {"datum": -10.057}}},
   {"data": {"name": "letters"}, "transform": [{"filter": "datum.p==='D'"}], "mark": {"type": "text", "fontSize": 16, "fontWeight": "bold", "baseline": "top", "align": "left"},
    "encoding": {"x": {"field": "x", "type": "quantitative"}, "y": {"field": "y", "type": "quantitative"}, "text": {"field": "t"}}},
   {"data": {"name": "med"}, "transform": [{"filter": "datum.p==='D'"}], "mark": {"type": "tick", "orient": "horizontal", "size": 61, "thickness": 1.8, "color": "black"},
    "encoding": {"x": {"field": "x", "type": "quantitative"}, "y": {"field": "v", "type": "quantitative"}}},
   {"data": {"name": "sig"}, "transform": [{"filter": "datum.p==='D'"}], "mark": {"type": "rule", "strokeWidth": 2.7, "color": "black"},
    "encoding": {"x": {"field": "from", "type": "quantitative"}, "x2": {"field": "to"}, "y": {"field": "lv", "type": "quantitative"}}},
   {"data": {"name": "sig"}, "transform": [{"filter": "datum.p==='D'"}], "mark": {"type": "tick", "orient": "vertical", "size": 14, "thickness": 2.7, "color": "black"},
    "encoding": {"x": {"field": "from", "type": "quantitative"}, "y": {"field": "lv", "type": "quantitative"}}},
   {"data": {"name": "sig"}, "transform": [{"filter": "datum.p==='D'"}], "mark": {"type": "tick", "orient": "vertical", "size": 14, "thickness": 2.7, "color": "black"},
    "encoding": {"x": {"field": "to", "type": "quantitative"}, "y": {"field": "lv", "type": "quantitative"}}},
   {"data": {"name": "sig"}, "transform": [{"filter": "datum.p==='D'"}], "mark": {"type": "text", "fontWeight": "bold", "fontSize": 11, "dy": -4, "baseline": "alphabetic", "color": "black"},
    "encoding": {"x": {"field": "tx", "type": "quantitative"}, "y": {"field": "lv", "type": "quantitative"}, "text": {"field": "lab"}}},
   {"data": {"name": "grp"}, "transform": [{"filter": "datum.p==='D'"}], "mark": {"type": "rule", "strokeWidth": 3, "color": "black", "strokeCap": "square"},
    "encoding": {"x": {"field": "from", "type": "quantitative"}, "y": {"field": "top", "type": "quantitative"}, "y2": {"field": "bot"}}},
   {"data": {"name": "grp"}, "transform": [{"filter": "datum.p==='D'"}], "mark": {"type": "rule", "strokeWidth": 3, "color": "black", "strokeCap": "square"},
    "encoding": {"x": {"field": "to", "type": "quantitative"}, "y": {"field": "top", "type": "quantitative"}, "y2": {"field": "bot"}}},
   {"data": {"name": "grp"}, "transform": [{"filter": "datum.p==='D'"}], "mark": {"type": "rule", "strokeWidth": 3, "color": "black", "strokeCap": "square"},
    "encoding": {"x": {"field": "from", "type": "quantitative"}, "x2": {"field": "to"}, "y": {"field": "bot", "type": "quantitative"}}},
   {"data": {"name": "grp"}, "transform": [{"filter": "datum.p==='D'"}], "mark": {"type": "text", "fontWeight": "bold", "fontSize": 13.5, "baseline": "middle", "color": "black"},
    "encoding": {"x": {"field": "tx", "type": "quantitative"}, "y": {"field": "ly", "type": "quantitative"}, "text": {"field": "lab"}}}
  ]},
  {"width": 301, "height": 177, "layer": [
   {"data": {"name": "pts"}, "transform": [{"filter": "datum.p==='E'"}], "mark": {"type": "point", "filled": true, "color": "black", "opacity": 1, "size": 64},
    "encoding": {"x": {"field": "x", "type": "quantitative", "scale": {"domain": [0.337, 3.663], "nice": false, "zero": false}, "axis": {"values": [1,2,3], "tickCount": 20, "labelExpr": "datum.value == 1 ? 'Control' : datum.value == 2 ? 'RBC' : 'iRBC'", "title": null, "labelPadding": 6}},
     "y": {"field": "v", "type": "quantitative", "scale": {"domain": [0, 250], "nice": false, "zero": false}, "axis": {"values": [0,50,100,150,200,250], "tickCount": 20, "title": "Geometric MFI of PD-1", "titleFontWeight": "normal", "titleFontSize": 12.5, "titleX": -41.9, "titleY": 88.5, "format": "d"}},
     "shape": {"field": "g", "type": "nominal", "scale": {"domain": ["Control","RBC","iRBC"], "range": ["circle","square","triangle-up"]}, "legend": null}}},
   {"data": {"values": [{}]}, "mark": {"type": "rect", "opacity": 0}, "encoding": {"x": {"datum": -0.6133, "type": "quantitative"}, "x2": {"datum": 3.7072}, "y": {"datum": 296.6, "type": "quantitative"}, "y2": {"datum": -117.2}}},
   {"data": {"name": "letters"}, "transform": [{"filter": "datum.p==='E'"}], "mark": {"type": "text", "fontSize": 16, "fontWeight": "bold", "baseline": "top", "align": "left"},
    "encoding": {"x": {"field": "x", "type": "quantitative"}, "y": {"field": "y", "type": "quantitative"}, "text": {"field": "t"}}},
   {"data": {"name": "med"}, "transform": [{"filter": "datum.p==='E'"}], "mark": {"type": "tick", "orient": "horizontal", "size": 58, "thickness": 1.8, "color": "black"},
    "encoding": {"x": {"field": "x", "type": "quantitative"}, "y": {"field": "v", "type": "quantitative"}}},
   {"data": {"name": "sig"}, "transform": [{"filter": "datum.p==='E'"}], "mark": {"type": "rule", "strokeWidth": 2.7, "color": "black"},
    "encoding": {"x": {"field": "from", "type": "quantitative"}, "x2": {"field": "to"}, "y": {"field": "lv", "type": "quantitative"}}},
   {"data": {"name": "sig"}, "transform": [{"filter": "datum.p==='E'"}], "mark": {"type": "tick", "orient": "vertical", "size": 15, "thickness": 2.7, "color": "black"},
    "encoding": {"x": {"field": "from", "type": "quantitative"}, "y": {"field": "lv", "type": "quantitative"}}},
   {"data": {"name": "sig"}, "transform": [{"filter": "datum.p==='E'"}], "mark": {"type": "tick", "orient": "vertical", "size": 15, "thickness": 2.7, "color": "black"},
    "encoding": {"x": {"field": "to", "type": "quantitative"}, "y": {"field": "lv", "type": "quantitative"}}},
   {"data": {"name": "sig"}, "transform": [{"filter": "datum.p==='E'"}], "mark": {"type": "text", "fontWeight": "bold", "fontSize": 11, "dy": -3, "baseline": "alphabetic", "color": "black"},
    "encoding": {"x": {"field": "tx", "type": "quantitative"}, "y": {"field": "lv", "type": "quantitative"}, "text": {"field": "lab"}}},
   {"data": {"name": "grp"}, "transform": [{"filter": "datum.p==='E'"}], "mark": {"type": "rule", "strokeWidth": 3, "color": "black", "strokeCap": "square"},
    "encoding": {"x": {"field": "from", "type": "quantitative"}, "y": {"field": "top", "type": "quantitative"}, "y2": {"field": "bot"}}},
   {"data": {"name": "grp"}, "transform": [{"filter": "datum.p==='E'"}], "mark": {"type": "rule", "strokeWidth": 3, "color": "black", "strokeCap": "square"},
    "encoding": {"x": {"field": "to", "type": "quantitative"}, "y": {"field": "top", "type": "quantitative"}, "y2": {"field": "bot"}}},
   {"data": {"name": "grp"}, "transform": [{"filter": "datum.p==='E'"}], "mark": {"type": "rule", "strokeWidth": 3, "color": "black", "strokeCap": "square"},
    "encoding": {"x": {"field": "from", "type": "quantitative"}, "x2": {"field": "to"}, "y": {"field": "bot", "type": "quantitative"}}},
   {"data": {"name": "grp"}, "transform": [{"filter": "datum.p==='E'"}], "mark": {"type": "text", "fontWeight": "bold", "fontSize": 13.5, "baseline": "middle", "color": "black"},
    "encoding": {"x": {"field": "tx", "type": "quantitative"}, "y": {"field": "ly", "type": "quantitative"}, "text": {"field": "lab"}}}
  ]}
 ]},
 {"spacing": 0, "hconcat": [
  {"width": 1, "height": 1, "data": {"values": [{}]}, "mark": "text", "encoding": {"text": {"value": ""}}},
  {"width": 305, "height": 174, "layer": [
   {"data": {"name": "pts"}, "transform": [{"filter": "datum.p==='F'"}], "mark": {"type": "point", "filled": true, "color": "black", "opacity": 1, "size": 70},
    "encoding": {"x": {"field": "x", "type": "quantitative", "scale": {"domain": [0.344, 3.521], "nice": false, "zero": false}, "axis": {"values": [1,2,3], "tickCount": 20, "labelExpr": "datum.value == 1 ? 'Control' : datum.value == 2 ? 'RBC' : 'iRBC'", "title": null, "labelPadding": 6}},
     "y": {"field": "v", "type": "quantitative", "scale": {"domain": [0, 800], "nice": false, "zero": false}, "axis": {"values": [0,200,400,600,800], "tickCount": 20, "title": "IFN-γ pg/ml", "titleX": -48.7, "titleY": 87, "format": "d"}},
     "shape": {"field": "g", "type": "nominal", "scale": {"domain": ["Control","RBC","iRBC"], "range": ["circle","square","triangle-up"]}, "legend": null}}},
   {"data": {"values": [{}]}, "mark": {"type": "rect", "opacity": 0}, "encoding": {"x": {"datum": -0.4269, "type": "quantitative"}, "x2": {"datum": 3.6253}, "y": {"datum": 887.4, "type": "quantitative"}, "y2": {"datum": -381.6}}},
   {"data": {"name": "letters"}, "transform": [{"filter": "datum.p==='F'"}], "mark": {"type": "text", "fontSize": 16, "fontWeight": "bold", "baseline": "top", "align": "left"},
    "encoding": {"x": {"field": "x", "type": "quantitative"}, "y": {"field": "y", "type": "quantitative"}, "text": {"field": "t"}}},
   {"data": {"name": "med"}, "transform": [{"filter": "datum.p==='F'"}], "mark": {"type": "tick", "orient": "horizontal", "size": 64, "thickness": 1.8, "color": "black"},
    "encoding": {"x": {"field": "x", "type": "quantitative"}, "y": {"field": "v", "type": "quantitative"}}},
   {"data": {"name": "sig"}, "transform": [{"filter": "datum.p==='F'"}], "mark": {"type": "rule", "strokeWidth": 2.7, "color": "black"},
    "encoding": {"x": {"field": "from", "type": "quantitative"}, "x2": {"field": "to"}, "y": {"field": "lv", "type": "quantitative"}}},
   {"data": {"name": "sig"}, "transform": [{"filter": "datum.p==='F'"}], "mark": {"type": "tick", "orient": "vertical", "size": 17, "thickness": 2.7, "color": "black"},
    "encoding": {"x": {"field": "from", "type": "quantitative"}, "y": {"field": "lv", "type": "quantitative"}}},
   {"data": {"name": "sig"}, "transform": [{"filter": "datum.p==='F'"}], "mark": {"type": "tick", "orient": "vertical", "size": 17, "thickness": 2.7, "color": "black"},
    "encoding": {"x": {"field": "to", "type": "quantitative"}, "y": {"field": "lv", "type": "quantitative"}}},
   {"data": {"name": "sig"}, "transform": [{"filter": "datum.p==='F'"}], "mark": {"type": "text", "fontWeight": "bold", "fontSize": 11, "dy": -5, "baseline": "alphabetic", "color": "black"},
    "encoding": {"x": {"field": "tx", "type": "quantitative"}, "y": {"field": "lv", "type": "quantitative"}, "text": {"field": "lab"}}},
   {"data": {"name": "grp"}, "transform": [{"filter": "datum.p==='F'"}], "mark": {"type": "rule", "strokeWidth": 3, "color": "black", "strokeCap": "square"},
    "encoding": {"x": {"field": "from", "type": "quantitative"}, "y": {"field": "top", "type": "quantitative"}, "y2": {"field": "bot"}}},
   {"data": {"name": "grp"}, "transform": [{"filter": "datum.p==='F'"}], "mark": {"type": "rule", "strokeWidth": 3, "color": "black", "strokeCap": "square"},
    "encoding": {"x": {"field": "to", "type": "quantitative"}, "y": {"field": "top", "type": "quantitative"}, "y2": {"field": "bot"}}},
   {"data": {"name": "grp"}, "transform": [{"filter": "datum.p==='F'"}], "mark": {"type": "rule", "strokeWidth": 3, "color": "black", "strokeCap": "square"},
    "encoding": {"x": {"field": "from", "type": "quantitative"}, "x2": {"field": "to"}, "y": {"field": "bot", "type": "quantitative"}}},
   {"data": {"name": "grp"}, "transform": [{"filter": "datum.p==='F'"}], "mark": {"type": "text", "fontWeight": "bold", "fontSize": 13.5, "baseline": "middle", "color": "black"},
    "encoding": {"x": {"field": "tx", "type": "quantitative"}, "y": {"field": "ly", "type": "quantitative"}, "text": {"field": "lab"}}}
  ]},
  {"width": 282, "height": 178, "layer": [
   {"data": {"name": "pts"}, "transform": [{"filter": "datum.p==='G'"}], "mark": {"type": "point", "filled": true, "color": "black", "opacity": 1, "size": 70},
    "encoding": {"x": {"field": "x", "type": "quantitative", "scale": {"domain": [0.333, 3.415], "nice": false, "zero": false}, "axis": {"values": [1,2,3], "tickCount": 20, "labelExpr": "datum.value == 1 ? 'Control' : datum.value == 2 ? 'RBC' : 'iRBC'", "title": null, "labelPadding": 6}},
     "y": {"field": "v", "type": "quantitative", "scale": {"domain": [0, 800], "nice": false, "zero": false}, "axis": {"values": [0,200,400,600,800], "tickCount": 20, "title": "IL-6 pg/ml", "titleX": -42.7, "titleY": 89, "format": "d"}},
     "shape": {"field": "g", "type": "nominal", "scale": {"domain": ["Control","RBC","iRBC"], "range": ["circle","square","triangle-up"]}, "legend": null}}},
   {"data": {"values": [{}]}, "mark": {"type": "rect", "opacity": 0}, "encoding": {"x": {"datum": -0.6069, "type": "quantitative"}, "x2": {"datum": 3.6663}, "y": {"datum": 885.4, "type": "quantitative"}, "y2": {"datum": -355.1}}},
   {"data": {"name": "letters"}, "transform": [{"filter": "datum.p==='G'"}], "mark": {"type": "text", "fontSize": 16, "fontWeight": "bold", "baseline": "top", "align": "left"},
    "encoding": {"x": {"field": "x", "type": "quantitative"}, "y": {"field": "y", "type": "quantitative"}, "text": {"field": "t"}}},
   {"data": {"name": "med"}, "transform": [{"filter": "datum.p==='G'"}], "mark": {"type": "tick", "orient": "horizontal", "size": 60, "thickness": 1.8, "color": "black"},
    "encoding": {"x": {"field": "x", "type": "quantitative"}, "y": {"field": "v", "type": "quantitative"}}},
   {"data": {"name": "sig"}, "transform": [{"filter": "datum.p==='G'"}], "mark": {"type": "rule", "strokeWidth": 2.7, "color": "black"},
    "encoding": {"x": {"field": "from", "type": "quantitative"}, "x2": {"field": "to"}, "y": {"field": "lv", "type": "quantitative"}}},
   {"data": {"name": "sig"}, "transform": [{"filter": "datum.p==='G'"}], "mark": {"type": "tick", "orient": "vertical", "size": 15, "thickness": 2.7, "color": "black"},
    "encoding": {"x": {"field": "from", "type": "quantitative"}, "y": {"field": "lv", "type": "quantitative"}}},
   {"data": {"name": "sig"}, "transform": [{"filter": "datum.p==='G'"}], "mark": {"type": "tick", "orient": "vertical", "size": 15, "thickness": 2.7, "color": "black"},
    "encoding": {"x": {"field": "to", "type": "quantitative"}, "y": {"field": "lv", "type": "quantitative"}}},
   {"data": {"name": "sig"}, "transform": [{"filter": "datum.p==='G'"}], "mark": {"type": "text", "fontWeight": "bold", "fontSize": 11, "dy": -5, "baseline": "alphabetic", "color": "black"},
    "encoding": {"x": {"field": "tx", "type": "quantitative"}, "y": {"field": "lv", "type": "quantitative"}, "text": {"field": "lab"}}},
   {"data": {"name": "grp"}, "transform": [{"filter": "datum.p==='G'"}], "mark": {"type": "rule", "strokeWidth": 3, "color": "black", "strokeCap": "square"},
    "encoding": {"x": {"field": "from", "type": "quantitative"}, "y": {"field": "top", "type": "quantitative"}, "y2": {"field": "bot"}}},
   {"data": {"name": "grp"}, "transform": [{"filter": "datum.p==='G'"}], "mark": {"type": "rule", "strokeWidth": 3, "color": "black", "strokeCap": "square"},
    "encoding": {"x": {"field": "to", "type": "quantitative"}, "y": {"field": "top", "type": "quantitative"}, "y2": {"field": "bot"}}},
   {"data": {"name": "grp"}, "transform": [{"filter": "datum.p==='G'"}], "mark": {"type": "rule", "strokeWidth": 3, "color": "black", "strokeCap": "square"},
    "encoding": {"x": {"field": "from", "type": "quantitative"}, "x2": {"field": "to"}, "y": {"field": "bot", "type": "quantitative"}}},
   {"data": {"name": "grp"}, "transform": [{"filter": "datum.p==='G'"}], "mark": {"type": "text", "fontWeight": "bold", "fontSize": 13.5, "baseline": "middle", "color": "black"},
    "encoding": {"x": {"field": "tx", "type": "quantitative"}, "y": {"field": "ly", "type": "quantitative"}, "text": {"field": "lab"}}}
  ]}
 ]},
 {"spacing": 0, "hconcat": [
  {"width": 1, "height": 1, "data": {"values": [{}]}, "mark": "text", "encoding": {"text": {"value": ""}}},
  {"width": 300, "height": 175, "layer": [
   {"data": {"name": "pts"}, "transform": [{"filter": "datum.p==='H'"}], "mark": {"type": "point", "filled": true, "color": "black", "opacity": 1, "size": 70},
    "encoding": {"x": {"field": "x", "type": "quantitative", "scale": {"domain": [0.29, 3.516], "nice": false, "zero": false}, "axis": {"values": [1,2,3], "tickCount": 20, "labelExpr": "datum.value == 1 ? 'Control' : datum.value == 2 ? 'RBC' : 'iRBC'", "title": null, "labelPadding": 6}},
     "y": {"field": "v", "type": "quantitative", "scale": {"domain": [0, 15000], "nice": false, "zero": false}, "axis": {"values": [0,5000,10000,15000], "tickCount": 20, "title": "TNF pg/ml", "titleX": -58.7, "titleY": 87.5, "format": "d"}},
     "shape": {"field": "g", "type": "nominal", "scale": {"domain": ["Control","RBC","iRBC"], "range": ["circle","square","triangle-up"]}, "legend": null}}},
   {"data": {"values": [{}]}, "mark": {"type": "rect", "opacity": 0}, "encoding": {"x": {"datum": -0.5594, "type": "quantitative"}, "x2": {"datum": 3.6233}, "y": {"datum": 17828, "type": "quantitative"}, "y2": {"datum": -7114}}},
   {"data": {"name": "letters"}, "transform": [{"filter": "datum.p==='H'"}], "mark": {"type": "text", "fontSize": 16, "fontWeight": "bold", "baseline": "top", "align": "left"},
    "encoding": {"x": {"field": "x", "type": "quantitative"}, "y": {"field": "y", "type": "quantitative"}, "text": {"field": "t"}}},
   {"data": {"name": "med"}, "transform": [{"filter": "datum.p==='H'"}], "mark": {"type": "tick", "orient": "horizontal", "size": 60, "thickness": 1.8, "color": "black"},
    "encoding": {"x": {"field": "x", "type": "quantitative"}, "y": {"field": "v", "type": "quantitative"}}},
   {"data": {"name": "sig"}, "transform": [{"filter": "datum.p==='H'"}], "mark": {"type": "rule", "strokeWidth": 2.7, "color": "black"},
    "encoding": {"x": {"field": "from", "type": "quantitative"}, "x2": {"field": "to"}, "y": {"field": "lv", "type": "quantitative"}}},
   {"data": {"name": "sig"}, "transform": [{"filter": "datum.p==='H'"}], "mark": {"type": "tick", "orient": "vertical", "size": 15, "thickness": 2.7, "color": "black"},
    "encoding": {"x": {"field": "from", "type": "quantitative"}, "y": {"field": "lv", "type": "quantitative"}}},
   {"data": {"name": "sig"}, "transform": [{"filter": "datum.p==='H'"}], "mark": {"type": "tick", "orient": "vertical", "size": 15, "thickness": 2.7, "color": "black"},
    "encoding": {"x": {"field": "to", "type": "quantitative"}, "y": {"field": "lv", "type": "quantitative"}}},
   {"data": {"name": "sig"}, "transform": [{"filter": "datum.p==='H'"}], "mark": {"type": "text", "fontWeight": "bold", "fontSize": 11, "dy": -3, "baseline": "alphabetic", "color": "black"},
    "encoding": {"x": {"field": "tx", "type": "quantitative"}, "y": {"field": "lv", "type": "quantitative"}, "text": {"field": "lab"}}},
   {"data": {"name": "grp"}, "transform": [{"filter": "datum.p==='H'"}], "mark": {"type": "rule", "strokeWidth": 3, "color": "black", "strokeCap": "square"},
    "encoding": {"x": {"field": "from", "type": "quantitative"}, "y": {"field": "top", "type": "quantitative"}, "y2": {"field": "bot"}}},
   {"data": {"name": "grp"}, "transform": [{"filter": "datum.p==='H'"}], "mark": {"type": "rule", "strokeWidth": 3, "color": "black", "strokeCap": "square"},
    "encoding": {"x": {"field": "to", "type": "quantitative"}, "y": {"field": "top", "type": "quantitative"}, "y2": {"field": "bot"}}},
   {"data": {"name": "grp"}, "transform": [{"filter": "datum.p==='H'"}], "mark": {"type": "rule", "strokeWidth": 3, "color": "black", "strokeCap": "square"},
    "encoding": {"x": {"field": "from", "type": "quantitative"}, "x2": {"field": "to"}, "y": {"field": "bot", "type": "quantitative"}}},
   {"data": {"name": "grp"}, "transform": [{"filter": "datum.p==='H'"}], "mark": {"type": "text", "fontWeight": "bold", "fontSize": 13.5, "baseline": "middle", "color": "black"},
    "encoding": {"x": {"field": "tx", "type": "quantitative"}, "y": {"field": "ly", "type": "quantitative"}, "text": {"field": "lab"}}}
  ]}
 ]}
]
}
